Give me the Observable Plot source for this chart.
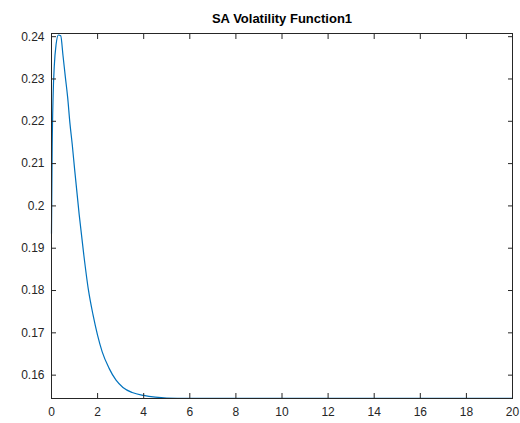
<!DOCTYPE html>
<html>
<head>
<meta charset="utf-8">
<script src="https://cdn.jsdelivr.net/npm/d3@7"></script>
<script src="https://cdn.jsdelivr.net/npm/@observablehq/plot@0.6"></script>
<style>
  html, body { margin: 0; padding: 0; background: #fff; }
  #chart { width: 520px; height: 423px; }
</style>
</head>
<body>
<div id="chart"></div>
<script>
const titleText = "SA Volatility Function1";
const tValues = [0, 0.03, 0.07, 0.12, 0.2, 0.3, 0.4, 0.5, 0.6, 0.7, 0.8, 0.9, 1.0, 1.2, 1.4, 1.6, 1.8, 2.0, 2.2, 2.5, 2.8, 3.1, 3.5, 4.0, 4.5, 5.0, 6, 8, 10, 12, 14, 16, 18, 20];
const volValues = [0.1935, 0.2140, 0.2260, 0.2330, 0.2382, 0.2404, 0.2402, 0.2355, 0.2305, 0.2257, 0.2195, 0.2145, 0.2088, 0.1980, 0.1885, 0.1802, 0.1743, 0.1694, 0.1655, 0.1616, 0.1588, 0.1571, 0.1559, 0.1552, 0.1548, 0.1546, 0.15452, 0.15450, 0.15450, 0.15450, 0.15450, 0.15450, 0.15450, 0.15450];
const xTicks = [0, 2, 4, 6, 8, 10, 12, 14, 16, 18, 20];
const yTicks = [0.16, 0.17, 0.18, 0.19, 0.2, 0.21, 0.22, 0.23, 0.24];

const data = tValues.map((t, i) => ({t, v: volValues[i]}));
const axisColor = "#262626";
const fmt = d => String(+d.toFixed(2));

const chart = Plot.plot({
  width: 520,
  height: 423,
  marginLeft: 51,
  marginRight: 8,
  marginTop: 33,
  marginBottom: 25,
  style: {fontFamily: "Liberation Sans, Arial, sans-serif", fontSize: "12px", color: axisColor, background: "#fff"},
  x: {domain: [0, 20]},
  y: {domain: [0.15448, 0.24075]},
  marks: [
    Plot.line(data, {x: "t", y: "v", stroke: "#0072BD", strokeWidth: 1.2, curve: "monotone-x"}),
    Plot.frame({stroke: axisColor, strokeWidth: 1}),
    Plot.axisX(xTicks, {anchor: "bottom", label: null, tickSize: -5, tickPadding: 14, tickFormat: fmt, stroke: axisColor, fill: axisColor, fontSize: 12}),
    Plot.axisX(xTicks, {anchor: "top", label: null, tickSize: -5, tickFormat: null, text: null, stroke: axisColor}),
    Plot.axisY(yTicks, {anchor: "left", label: null, tickSize: -5, tickPadding: 12, tickFormat: fmt, stroke: axisColor, fill: axisColor, fontSize: 12}),
    Plot.axisY(yTicks, {anchor: "right", label: null, tickSize: -5, tickFormat: null, text: null, stroke: axisColor}),
    Plot.text([titleText], {frameAnchor: "top", dy: -20, text: d => d, fontWeight: "bold", fontSize: 13, fill: "#000"})
  ]
});
document.getElementById("chart").appendChild(chart);
</script>
</body>
</html>
